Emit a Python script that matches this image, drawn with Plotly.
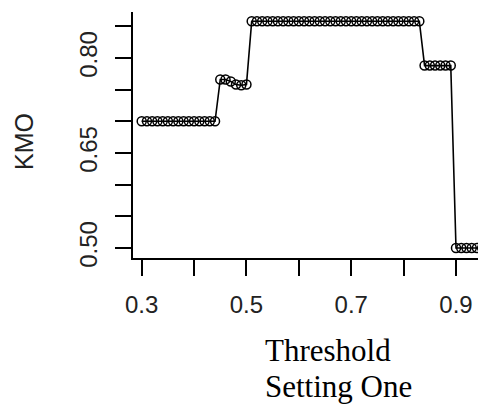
import plotly.graph_objects as go

threshold = [0.30, 0.31, 0.32, 0.33, 0.34, 0.35, 0.36, 0.37, 0.38, 0.39,
             0.40, 0.41, 0.42, 0.43, 0.44, 0.45, 0.46, 0.47, 0.48, 0.49,
             0.50, 0.51, 0.52, 0.53, 0.54, 0.55, 0.56, 0.57, 0.58, 0.59,
             0.60, 0.61, 0.62, 0.63, 0.64, 0.65, 0.66, 0.67, 0.68, 0.69,
             0.70, 0.71, 0.72, 0.73, 0.74, 0.75, 0.76, 0.77, 0.78, 0.79,
             0.80, 0.81, 0.82, 0.83, 0.84, 0.85, 0.86, 0.87, 0.88, 0.89,
             0.90, 0.91, 0.92, 0.93, 0.94, 0.95]
kmo = [0.700, 0.700, 0.700, 0.700, 0.700, 0.700, 0.700, 0.700, 0.700, 0.700,
       0.700, 0.700, 0.700, 0.700, 0.700, 0.766, 0.766, 0.763, 0.758, 0.757,
       0.758, 0.858, 0.858, 0.858, 0.858, 0.858, 0.858, 0.858, 0.858, 0.858,
       0.858, 0.858, 0.858, 0.858, 0.858, 0.858, 0.858, 0.858, 0.858, 0.858,
       0.858, 0.858, 0.858, 0.858, 0.858, 0.858, 0.858, 0.858, 0.858, 0.858,
       0.858, 0.858, 0.858, 0.858, 0.788, 0.788, 0.788, 0.788, 0.788, 0.788,
       0.500, 0.500, 0.500, 0.500, 0.500, 0.500]

x_tickvals = [0.3, 0.4, 0.5, 0.6, 0.7, 0.8, 0.9]
x_ticktext = ["0.3", "", "0.5", "", "0.7", "", "0.9"]
y_tickvals = [0.50, 0.55, 0.60, 0.65, 0.70, 0.75, 0.80, 0.85]
y_ticktext = ["0.50", "", "", "0.65", "", "", "0.80", ""]

y_title = "KMO"
x_title_lines = ["Threshold", "Setting One"]

fig = go.Figure()
fig.add_trace(go.Scatter(
    x=threshold, y=kmo, mode="lines+markers",
    line=dict(color="black", width=1.6),
    marker=dict(symbol="circle-open", size=9, color="black",
                line=dict(color="black", width=1.5)),
    showlegend=False,
))

tick_font = dict(family="Liberation Sans, Arial, sans-serif", size=24, color="#222")

fig.update_layout(
    width=478, height=408,
    margin=dict(l=133, r=0, t=12, b=150),
    plot_bgcolor="white", paper_bgcolor="white",
    xaxis=dict(range=[0.2834, 0.942], showgrid=False, zeroline=False,
               showline=True, linecolor="black", linewidth=2,
               ticks="outside", ticklen=16, tickwidth=2, tickcolor="black",
               tickvals=x_tickvals, ticktext=x_ticktext, tickfont=tick_font,
               ticklabelstandoff=8),
    yaxis=dict(range=[0.4842, 0.8726], showgrid=False, zeroline=False,
               showline=True, linecolor="black", linewidth=2,
               ticks="outside", ticklen=16, tickwidth=2, tickcolor="black",
               tickvals=y_tickvals, ticktext=y_ticktext, tickfont=tick_font,
               tickangle=-90, ticklabelstandoff=8),
)

# y-axis title
fig.add_annotation(text=y_title, xref="paper", yref="paper",
                   x=(24 - 133) / 345, y=(258 - 141) / 246,
                   xanchor="center", yanchor="middle", textangle=-90,
                   showarrow=False,
                   font=dict(family="Liberation Sans, Arial, sans-serif", size=25, color="#222"))

# x-axis title (two lines, serif, left aligned)
for i, (line, yc) in enumerate(zip(x_title_lines, [350, 386])):
    fig.add_annotation(text=line, xref="paper", yref="paper",
                       x=(263 - 133) / 345, y=(258 - yc) / 246,
                       xanchor="left", yanchor="middle", showarrow=False,
                       font=dict(family="Liberation Serif, Times New Roman, serif", size=31, color="black"))

fig.write_html("out.html")
